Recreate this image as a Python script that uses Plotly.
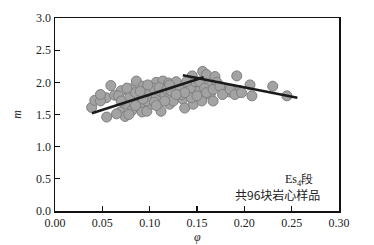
import plotly.graph_objects as go

phi = [0.0387, 0.042, 0.054, 0.059, 0.0546, 0.063, 0.070, 0.074, 0.069, 0.074,
       0.079, 0.081, 0.086, 0.090, 0.081, 0.092, 0.093, 0.097, 0.100, 0.102,
       0.107, 0.107, 0.112, 0.114, 0.111, 0.116, 0.120, 0.121, 0.127, 0.125,
       0.128, 0.135, 0.137, 0.141, 0.145, 0.146, 0.150, 0.152, 0.156, 0.157,
       0.160, 0.162, 0.164, 0.167, 0.169, 0.171, 0.180, 0.184, 0.188, 0.192,
       0.195, 0.206, 0.208, 0.230, 0.245,
       0.048, 0.065, 0.078, 0.085, 0.088, 0.097, 0.104, 0.105, 0.110, 0.118,
       0.123, 0.132, 0.134, 0.143, 0.144, 0.148, 0.153, 0.155, 0.158, 0.160,
       0.167, 0.174, 0.177, 0.185, 0.190, 0.197, 0.137, 0.128, 0.116, 0.093,
       0.085, 0.076, 0.067, 0.048, 0.107, 0.090, 0.098, 0.121, 0.150, 0.070,
       0.139]
m = [1.61, 1.72, 1.76, 1.95, 1.46, 1.80, 1.87, 1.66, 1.54, 1.47,
     1.77, 1.90, 2.02, 1.66, 1.56, 1.54, 1.94, 1.55, 1.84, 1.66,
     2.00, 1.79, 1.55, 2.02, 1.86, 1.81, 1.99, 1.66, 1.94, 1.71,
     2.01, 1.74, 1.60, 1.85, 2.10, 1.66, 1.94, 1.86, 2.17, 1.79,
     2.12, 1.96, 1.82, 1.71, 2.09, 2.00, 1.89, 1.85, 1.86, 2.10,
     1.87, 1.96, 1.79, 1.94, 1.79,
     1.71, 1.51, 1.50, 1.64, 1.81, 1.71, 1.91, 1.69, 1.92, 1.89,
     1.86, 1.89, 1.81, 1.91, 1.76, 2.01, 2.01, 1.71, 1.91, 1.84,
     1.89, 1.94, 1.81, 1.89, 1.81, 1.84, 1.84, 1.81, 1.71, 1.74,
     1.84, 1.91, 1.79, 1.81, 1.64, 1.86, 1.96, 1.96, 1.79, 1.71,
     2.01]

fit1_x = [0.039, 0.157]
fit1_y = [1.52, 2.08]
fit2_x = [0.135, 0.256]
fit2_y = [2.11, 1.76]

x_ticks = [0.00, 0.05, 0.10, 0.15, 0.20, 0.25, 0.30]
x_ticklabels = ["0.00", "0.05", "0.10", "0.15", "0.20", "0.25", "0.30"]
y_ticks = [0.0, 0.5, 1.0, 1.5, 2.0, 2.5, 3.0]
y_ticklabels = ["0.0", "0.5", "1.0", "1.5", "2.0", "2.5", "3.0"]

SERIF = "'Liberation Serif', 'Times New Roman', serif"
font = dict(family=SERIF, size=12, color="#222222")

fig = go.Figure()
fig.add_trace(go.Scatter(
    x=phi, y=m, mode="markers",
    marker=dict(size=10, color="#a3a3a3", line=dict(color="#7f7f7f", width=1)),
    showlegend=False, hoverinfo="skip"))
fig.add_trace(go.Scatter(x=fit1_x, y=fit1_y, mode="lines",
                         line=dict(color="#1a1a1a", width=2.5), showlegend=False,
                         hoverinfo="skip"))
fig.add_trace(go.Scatter(x=fit2_x, y=fit2_y, mode="lines",
                         line=dict(color="#1a1a1a", width=2.5), showlegend=False,
                         hoverinfo="skip"))

axis_common = dict(showgrid=False, zeroline=False, showline=True, linecolor="#111111",
                   linewidth=1.5, mirror=True, ticks="inside", ticklen=5,
                   tickcolor="#111111", tickwidth=1.2, tickfont=font)

fig.update_xaxes(range=[0, 0.30], tickmode="array", tickvals=x_ticks, ticktext=x_ticklabels,
                 **axis_common)
fig.update_yaxes(range=[0, 3.0], tickmode="array", tickvals=y_ticks, ticktext=y_ticklabels,
                 title=dict(text="<i>m</i>", font=font, standoff=12), **axis_common)

fig.add_annotation(x=0.5, y=-0.135, xref="paper", yref="paper", text="<i>φ</i>",
                   showarrow=False, font=font, yanchor="middle")
fig.add_annotation(x=0.275, y=0.48, xref="x", yref="y", text="Es<sub>4</sub>段",
                   showarrow=False, font=font, xanchor="right")
fig.add_annotation(x=0.282, y=0.255, xref="x", yref="y", text="共96块岩心样品",
                   showarrow=False,
                   font=dict(family="'Noto Sans CJK SC', 'Liberation Serif', serif", size=12, color="#222222"),
                   xanchor="right")

fig.update_layout(width=374, height=245, margin=dict(l=55, r=35, t=11, b=34),
                  plot_bgcolor="white", paper_bgcolor="white", font=font,
                  hovermode=False)

fig.write_html("out.html", config={"displayModeBar": False, "staticPlot": True},
               post_script="document.body.style.margin='0';")
